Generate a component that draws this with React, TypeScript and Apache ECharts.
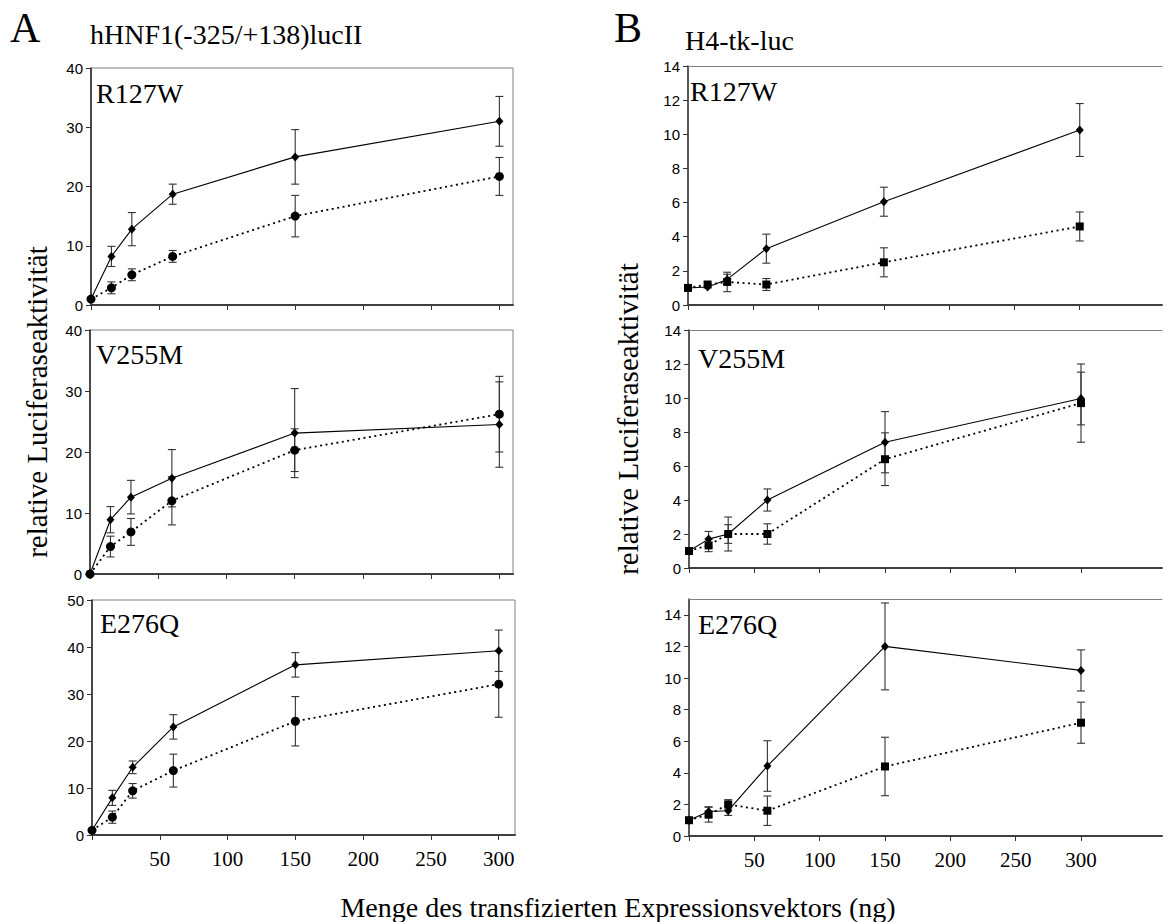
import React, { useEffect, useRef } from "react";
import * as echarts from "echarts";

// ---------- data ----------
const doses = [0, 15, 30, 60, 150, 300];
const xTickValues = [0, 50, 100, 150, 200, 250, 300];
const xLabelValues = [50, 100, 150, 200, 250, 300];
const yTicks40 = [0, 10, 20, 30, 40];
const yTicks50 = [0, 10, 20, 30, 40, 50];
const yTicks14 = [0, 2, 4, 6, 8, 10, 12, 14];

const panelNames = ["R127W", "V255M", "E276Q"];
const columnLetters = ["A", "B"];
const columnTitles = ["hHNF1(-325/+138)lucII", "H4-tk-luc"];
const yAxisTitle = "relative Luciferaseaktivität";
const xAxisTitle = "Menge des transfizierten Expressionsvektors (ng)";

// Column A: hHNF1(-325/+138)lucII
const aR127WSolid = [1.0, 8.2, 12.8, 18.7, 25.0, 31.0];
const aR127WSolidErr = [0, 1.7, 2.8, 1.7, 4.6, 4.2];
const aR127WDotted = [1.0, 2.9, 5.1, 8.2, 15.0, 21.7];
const aR127WDottedErr = [0, 1.0, 1.0, 1.0, 3.5, 3.2];

const aV255MSolid = [0, 8.9, 12.6, 15.7, 23.1, 24.5];
const aV255MSolidErr = [0, 2.15, 2.75, 4.7, 7.3, 7.0];
const aV255MDotted = [0, 4.5, 6.9, 12.0, 20.3, 26.2];
const aV255MDottedErr = [0, 1.7, 2.2, 3.95, 3.5, 6.2];

const aE276QSolid = [1.0, 7.9, 14.4, 23.0, 36.2, 39.2];
const aE276QSolidErr = [0, 1.6, 1.35, 2.6, 2.6, 4.4];
const aE276QDotted = [1.0, 3.8, 9.4, 13.7, 24.2, 32.1];
const aE276QDottedErr = [0, 1.3, 1.55, 3.5, 5.25, 7.05];

// Column B: H4-tk-luc
const bR127WSolid = [1.0, 1.05, 1.5, 3.3, 6.05, 10.25];
const bR127WSolidErr = [0, 0, 0.3, 0.85, 0.85, 1.55];
const bR127WDotted = [1.0, 1.2, 1.35, 1.2, 2.5, 4.6];
const bR127WDottedErr = [0, 0, 0.57, 0.35, 0.85, 0.85];

const bV255MSolid = [1.0, 1.7, 2.0, 4.0, 7.4, 9.97];
const bV255MSolidErr = [0, 0.45, 0.55, 0.65, 1.8, 1.55];
const bV255MDotted = [1.0, 1.33, 2.0, 2.0, 6.4, 9.7];
const bV255MDottedErr = [0, 0.37, 1.0, 0.6, 1.55, 2.3];

const bE276QSolid = [1.0, 1.55, 1.6, 4.43, 12.0, 10.48];
const bE276QSolidErr = [0, 0.3, 0.3, 1.6, 2.75, 1.3];
const bE276QDotted = [1.0, 1.35, 2.0, 1.6, 4.4, 7.17];
const bE276QDottedErr = [0, 0.47, 0.3, 0.93, 1.85, 1.3];

// ---------- layout ----------
const SERIF = "Liberation Serif";
const SANS = "Liberation Sans";

type Panel = {
  col: number; row: number; left: number; top: number; width: number; height: number;
  xMax: number; yMax: number; yStep: number; yTicks: number[];
  solid: number[]; solidErr: number[]; dotted: number[]; dottedErr: number[];
  dotSymbol: string; labelX: number; labelY: number;
};

const panels: Panel[] = [
  { col: 0, row: 0, left: 91, top: 68, width: 422, height: 237, xMax: 310, yMax: 40, yStep: 10, yTicks: yTicks40,
    solid: aR127WSolid, solidErr: aR127WSolidErr, dotted: aR127WDotted, dottedErr: aR127WDottedErr, dotSymbol: "circle", labelX: 96, labelY: 93 },
  { col: 0, row: 1, left: 90, top: 330, width: 423, height: 244, xMax: 310, yMax: 40, yStep: 10, yTicks: yTicks40,
    solid: aV255MSolid, solidErr: aV255MSolidErr, dotted: aV255MDotted, dottedErr: aV255MDottedErr, dotSymbol: "circle", labelX: 96, labelY: 354 },
  { col: 0, row: 2, left: 92, top: 600, width: 423, height: 235, xMax: 312, yMax: 50, yStep: 10, yTicks: yTicks50,
    solid: aE276QSolid, solidErr: aE276QSolidErr, dotted: aE276QDotted, dottedErr: aE276QDottedErr, dotSymbol: "circle", labelX: 100, labelY: 623 },
  { col: 1, row: 0, left: 688, top: 66, width: 474, height: 239, xMax: 363, yMax: 14, yStep: 2, yTicks: yTicks14,
    solid: bR127WSolid, solidErr: bR127WSolidErr, dotted: bR127WDotted, dottedErr: bR127WDottedErr, dotSymbol: "rect", labelX: 690, labelY: 91 },
  { col: 1, row: 1, left: 689, top: 330, width: 473, height: 238, xMax: 362, yMax: 14, yStep: 2, yTicks: yTicks14,
    solid: bV255MSolid, solidErr: bV255MSolidErr, dotted: bV255MDotted, dottedErr: bV255MDottedErr, dotSymbol: "rect", labelX: 698, labelY: 358 },
  { col: 1, row: 2, left: 689, top: 599, width: 473, height: 237, xMax: 362, yMax: 15, yStep: 2, yTicks: yTicks14,
    solid: bE276QSolid, solidErr: bE276QSolidErr, dotted: bE276QDotted, dottedErr: bE276QDottedErr, dotSymbol: "rect", labelX: 698, labelY: 624 },
];

function errorBarRender(color: string) {
  return (params: any, api: any) => {
    const x = api.value(0);
    const y = api.value(1);
    const e = api.value(2);
    if (!e) return null;
    const top = api.coord([x, y + e]);
    const bot = api.coord([x, y - e]);
    const hw = 4;
    const style = { stroke: color, lineWidth: 1.1 };
    return {
      type: "group",
      children: [
        { type: "line", shape: { x1: top[0], y1: top[1], x2: bot[0], y2: bot[1] }, style },
        { type: "line", shape: { x1: top[0] - hw, y1: top[1], x2: top[0] + hw, y2: top[1] }, style },
        { type: "line", shape: { x1: bot[0] - hw, y1: bot[1], x2: bot[0] + hw, y2: bot[1] }, style },
      ],
    };
  };
}

const f = (size: number) => `${size}px "${SERIF}"`;
const mainXAxisIndex: number[] = [];

function buildOption() {
  const grid: any[] = [];
  const xAxis: any[] = [];
  const yAxis: any[] = [];
  const series: any[] = [];
  const graphic: any[] = [];

  panels.forEach((p, i) => {
    grid.push({
      left: p.left, top: p.top, width: p.width, height: p.height,
      show: p.col === 0, borderColor: "#808080", borderWidth: 1, backgroundColor: "transparent",
    });
    const xi = xAxis.length;
    mainXAxisIndex[i] = xi;
    xAxis.push({
      gridIndex: i, type: "value", position: "bottom", min: 0, max: p.xMax, interval: 50,
      axisLine: { show: true, onZero: false, lineStyle: { color: "#404040", width: 2 } },
      axisTick: { show: true, customValues: xTickValues, length: 5, inside: false, lineStyle: { color: "#333", width: 1 } },
      axisLabel: { show: false },
      splitLine: { show: false },
    });
    if (p.col === 1) {
      xAxis.push({
        gridIndex: i, type: "value", position: "top", min: 0, max: p.xMax,
        axisLine: { show: true, onZero: false, lineStyle: { color: "#808080", width: 1 } },
        axisTick: { show: false }, axisLabel: { show: false }, splitLine: { show: false },
      });
    }
    yAxis.push({
      gridIndex: i, type: "value", min: 0, max: p.yMax, interval: p.yStep,
      axisLine: { show: true, onZero: false, lineStyle: { color: "#222", width: 1.5 } },
      axisTick: { show: true, customValues: p.yTicks, length: 5, lineStyle: { color: "#333" } },
      axisLabel: {
        formatter: (v: number) => (p.yTicks.indexOf(v) >= 0 ? String(v) : ""),
        fontFamily: SANS, fontSize: 15, color: "#000", margin: 8,
      },
      splitLine: { show: false },
    });

    series.push({
      type: "custom", xAxisIndex: xi, yAxisIndex: i, renderItem: errorBarRender("#333"), encode: { x: 0, y: 1 },
      data: doses.map((d, k) => [d, p.dotted[k], p.dottedErr[k]]), z: 2, silent: true,
    });
    series.push({
      type: "custom", xAxisIndex: xi, yAxisIndex: i, renderItem: errorBarRender("#333"), encode: { x: 0, y: 1 },
      data: doses.map((d, k) => [d, p.solid[k], p.solidErr[k]]), z: 2, silent: true,
    });
    series.push({
      type: "line", xAxisIndex: xi, yAxisIndex: i, data: doses.map((d, k) => [d, p.dotted[k]]),
      symbol: p.dotSymbol, symbolSize: p.dotSymbol === "circle" ? 9 : 8, showAllSymbol: true,
      lineStyle: { color: "#000", width: 1.8, type: [2, 3.5] }, itemStyle: { color: "#000" }, z: 3, silent: true,
    });
    series.push({
      type: "line", xAxisIndex: xi, yAxisIndex: i, data: doses.map((d, k) => [d, p.solid[k]]),
      symbol: "diamond", symbolSize: [8, 9], showAllSymbol: true,
      lineStyle: { color: "#000", width: 1.1 }, itemStyle: { color: "#000" }, z: 4, silent: true,
    });

    graphic.push({
      type: "text", x: p.labelX, y: p.labelY,
      style: { text: panelNames[p.row], font: f(28), fill: "#000", textAlign: "left", textVerticalAlign: "middle" },
    });
  });

  graphic.push(
    { type: "text", x: 10, y: 28, style: { text: columnLetters[0], font: f(42), fill: "#000", textAlign: "left", textVerticalAlign: "middle" } },
    { type: "text", x: 90, y: 34, style: { text: columnTitles[0], font: f(28), fill: "#000", textAlign: "left", textVerticalAlign: "middle" } },
    { type: "text", x: 614, y: 28, style: { text: columnLetters[1], font: f(42), fill: "#000", textAlign: "left", textVerticalAlign: "middle" } },
    { type: "text", x: 685, y: 40, style: { text: columnTitles[1], font: f(28), fill: "#000", textAlign: "left", textVerticalAlign: "middle" } },
    { type: "text", x: 37, y: 402, rotation: Math.PI / 2, style: { text: yAxisTitle, font: f(29), fill: "#000", textAlign: "center", textVerticalAlign: "middle" } },
    { type: "text", x: 628, y: 419, rotation: Math.PI / 2, style: { text: yAxisTitle, font: f(29), fill: "#000", textAlign: "center", textVerticalAlign: "middle" } },
    { type: "text", x: 618, y: 907, style: { text: xAxisTitle, font: f(28), fill: "#000", textAlign: "center", textVerticalAlign: "middle" } }
  );

  return { animation: false, backgroundColor: "#fff", grid, xAxis, yAxis, series, graphic };
}

export default function App() {
  const ref = useRef<HTMLDivElement>(null);
  useEffect(() => {
    if (!ref.current) return;
    const chart = echarts.init(ref.current, undefined, { renderer: "svg" });
    const option: any = buildOption();
    chart.setOption(option);
    // serif tick labels for the bottom panels, placed through the axes' own scales
    const tickLabels: any[] = [];
    panels.forEach((p, i) => {
      if (p.row !== 2) return;
      const baseY = chart.convertToPixel({ yAxisIndex: i } as any, 0) as unknown as number;
      xLabelValues.forEach((v) => {
        const px = chart.convertToPixel({ xAxisIndex: mainXAxisIndex[i] } as any, v) as unknown as number;
        tickLabels.push({
          type: "text",
          x: px,
          y: baseY + 24,
          silent: true,
          style: { text: String(v), font: f(21), fill: "#000", textAlign: "center", textVerticalAlign: "middle" },
        });
      });
    });
    chart.setOption({ graphic: [...option.graphic, ...tickLabels] } as any);
    return () => chart.dispose();
  }, []);
  return (
    <div
      ref={ref}
      style={{ position: "absolute", left: 0, top: 0, width: 1168, height: 922, background: "#fff" }}
    />
  );
}
